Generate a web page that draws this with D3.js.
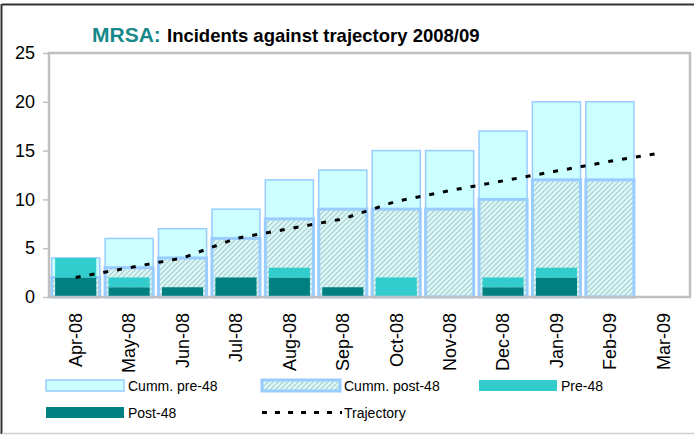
<!DOCTYPE html>
<html>
<head>
<meta charset="utf-8">
<script src="https://cdn.jsdelivr.net/npm/d3@7/dist/d3.min.js"></script>
<style>
  body {margin: 0; background: #fff; font-family: "Liberation Sans", Arial, sans-serif;}
</style>
</head>
<body>
<script>
// months and series
var months = ["Apr-08","May-08","Jun-08","Jul-08","Aug-08","Sep-08","Oct-08","Nov-08","Dec-08","Jan-09","Feb-09","Mar-09"]
var post48 = [2,1,1,2,2,1,0,0,1,2,0,null]
var pre48 = [2,1,0,0,1,0,2,0,1,1,0,null]
var cummPost48 = [2,3,4,6,8,9,9,9,10,12,12,null]
var cummPre48 = [2,3,3,3,4,4,6,6,7,8,8,null]
var trajectory = [2,3,4,6,7,8,9.8,10.9,11.9,12.9,13.9,14.8]
var yTicks = [0,5,10,15,20,25]

var width = 694, height = 435
var plotL = 49, plotR = 690, plotT = 53, plotB = 297

var svg = d3.select("body").append("svg")
    .attr("width", width)
    .attr("height", height)

var defs = svg.append("defs")
var pat = defs.append("pattern")
    .attr("id", "hatch")
    .attr("patternUnits", "userSpaceOnUse")
    .attr("width", 5).attr("height", 5)
pat.append("rect").attr("width", 5).attr("height", 5).attr("fill", "#d4fbfb")
pat.append("path")
    .attr("d", "M-1,1 l2,-2 M0,5 l5,-5 M4,6 l2,-2")
    .attr("stroke", "#b8c4c4").attr("stroke-width", 1.1)

// outer frame
svg.append("line").attr("x1", 2).attr("x2", width).attr("y1", 4.5).attr("y2", 4.5)
    .style("stroke", "#333").style("stroke-width", 2)
svg.append("line").attr("x1", 1.5).attr("x2", 1.5).attr("y1", 4).attr("y2", 434)
    .style("stroke", "#333").style("stroke-width", 2)
svg.append("line").attr("x1", 2).attr("x2", width).attr("y1", 433.5).attr("y2", 433.5)
    .style("stroke", "#d0d0d0").style("stroke-width", 1.5)

// title
svg.append("text").attr("x", 92).attr("y", 42).text("MRSA:")
    .style("font-weight", "bold").style("fill", "#17898a").style("font-size", "21px")
svg.append("text").attr("x", 167).attr("y", 42).text("Incidents against trajectory 2008/09")
    .style("font-weight", "bold").style("fill", "#000").style("font-size", "18.5px")

var x = d3.scaleBand().domain(months).range([plotL, plotR]).padding(0)
var y = d3.scaleLinear().domain([0, 25]).range([plotB, plotT])
var bw = x.bandwidth()

// cumulative stacked bars
var idx = d3.range(months.length).filter(function(i){ return cummPost48[i] != null })
var cw = bw * 0.9
svg.append("g").selectAll("rect")
    .data(idx).enter().append("rect")
    .attr("x", function(i){ return x(months[i]) + (bw - cw) / 2 })
    .attr("width", cw)
    .attr("y", function(i){ return y(cummPost48[i] + cummPre48[i]) })
    .attr("height", function(i){ return y(cummPost48[i]) - y(cummPost48[i] + cummPre48[i]) })
    .style("fill", "#ccffff").style("stroke", "#99ccff").style("stroke-width", 1.5)
svg.append("g").selectAll("rect")
    .data(idx).enter().append("rect")
    .attr("x", function(i){ return x(months[i]) + (bw - cw) / 2 })
    .attr("width", cw)
    .attr("y", function(i){ return y(cummPost48[i]) })
    .attr("height", function(i){ return y(0) - y(cummPost48[i]) })
    .style("fill", "url(#hatch)").style("stroke", "#99ccff").style("stroke-width", 3)

// monthly stacked bars
var mw = bw * 0.77
svg.append("g").selectAll("rect")
    .data(idx).enter().append("rect")
    .attr("x", function(i){ return x(months[i]) + (bw - mw) / 2 })
    .attr("width", mw)
    .attr("y", function(i){ return y(post48[i]) })
    .attr("height", function(i){ return y(0) - y(post48[i]) })
    .style("fill", "#008080")
svg.append("g").selectAll("rect")
    .data(idx).enter().append("rect")
    .attr("x", function(i){ return x(months[i]) + (bw - mw) / 2 })
    .attr("width", mw)
    .attr("y", function(i){ return y(post48[i] + pre48[i]) })
    .attr("height", function(i){ return y(post48[i]) - y(post48[i] + pre48[i]) })
    .style("fill", "#33cccc")

// plot border
svg.append("rect").attr("x", plotL).attr("y", plotT)
    .attr("width", plotR - plotL).attr("height", plotB - plotT)
    .style("fill", "none").style("stroke", "#c0c0c0").style("stroke-width", 2.5)

// trajectory
var line = d3.line()
    .x(function(d, i){ return x(months[i]) + bw / 2 })
    .y(function(d){ return y(d) })
svg.append("path").datum(trajectory)
    .attr("d", line)
    .style("fill", "none").style("stroke", "#000")
    .style("stroke-width", 3).style("stroke-dasharray", "5,9")

// axes
var yAxis = svg.append("g")
    .attr("transform", "translate(" + plotL + ",0)")
    .call(d3.axisLeft(y).tickValues(yTicks).tickSize(6).tickPadding(8))
yAxis.select(".domain").remove()
yAxis.selectAll("line").style("stroke", "#c0c0c0").style("stroke-width", 1.5)
yAxis.selectAll("text").style("font-size", "18px").style("font-family", "'Liberation Sans', Arial").style("fill", "#000")

var xAxis = svg.append("g")
    .attr("transform", "translate(0," + plotB + ")")
    .call(d3.axisBottom(x).tickSize(0))
xAxis.select(".domain").remove()
xAxis.selectAll("text")
    .attr("transform", "rotate(-90)")
    .attr("x", -16).attr("y", 0).attr("dy", "0.35em")
    .style("text-anchor", "end")
    .style("font-size", "18px").style("font-family", "'Liberation Sans', Arial").style("fill", "#000")

// legend
var legend = [
  {name: "Cumm. pre-48", x: 46, y: 380, type: "cpre"},
  {name: "Cumm. post-48", x: 262, y: 380, type: "cpost"},
  {name: "Pre-48", x: 479, y: 380, type: "pre"},
  {name: "Post-48", x: 46, y: 407, type: "post"},
  {name: "Trajectory", x: 262, y: 407, type: "traj"}
]
var lg = svg.append("g").selectAll("g").data(legend).enter().append("g")
lg.each(function(d){
  var g = d3.select(this)
  if (d.type == "traj") {
    g.append("line").attr("x1", d.x).attr("x2", d.x + 80).attr("y1", d.y + 5.5).attr("y2", d.y + 5.5)
      .style("stroke", "#000").style("stroke-width", 3).style("stroke-dasharray", "5,8")
  } else {
    var r = g.append("rect").attr("x", d.x).attr("y", d.y).attr("width", 78).attr("height", 11)
    if (d.type == "cpre") r.style("fill", "#ccffff").style("stroke", "#99ccff").style("stroke-width", 1.5)
    if (d.type == "cpost") r.style("fill", "url(#hatch)").style("stroke", "#99ccff").style("stroke-width", 3)
    if (d.type == "pre") r.style("fill", "#33cccc")
    if (d.type == "post") r.style("fill", "#008080")
  }
  g.append("text").attr("x", d.x + 82).attr("y", d.y + 11)
    .text(d.name).style("font-size", "14px").style("fill", "#000")
})
</script>
</body>
</html>
